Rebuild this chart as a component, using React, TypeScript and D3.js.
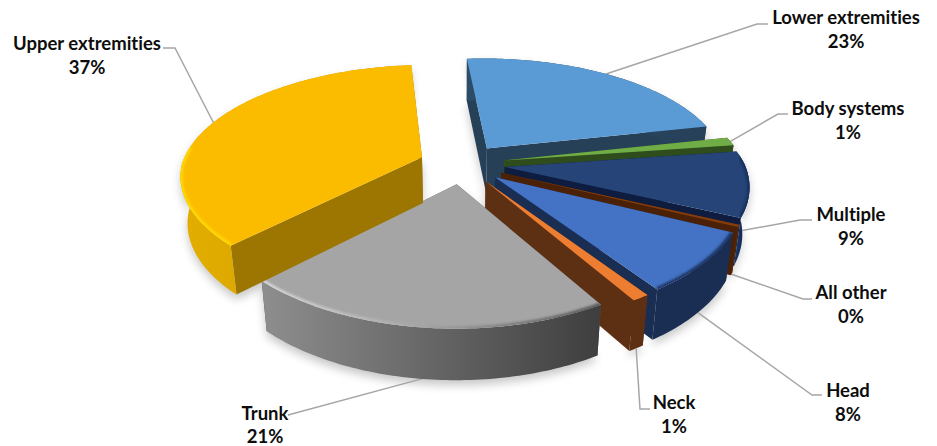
import * as d3 from 'd3'

// values, clockwise from the top
const categories = ['Lower extremities', 'Body systems', 'Multiple', 'All other', 'Head', 'Neck', 'Trunk', 'Upper extremities']
const shares = [23, 1.2, 9.3, 0.3, 8.3, 1, 21, 36.6]

// styles, same order
const topColors = ['#5B9BD5', '#70AD47', '#264478', '#843C0C', '#4472C4', '#ED7D31', '#A5A5A5', '#FBBC00']
const wallColors = ['#264058', '#2F4D1C', '#0E1D3F', '#4A2106', '#1A2D52', '#5E3013', '#505050', '#9C7600']
const rimLeft = ['#2C4C68', '#2F4D1C', '#1B3466', '#5A2A08', '#1A2D52', '#5E3013', '#8E8E8E', '#E3AE00']
const rimRight = ['#264058', '#2F4D1C', '#0E1D3F', '#4A2106', '#1A2D52', '#5E3013', '#3E3E3E', '#C99A00']
const bevelLeft = ['#5B9BD5', '#70AD47', '#16305E', '#843C0C', '#1F3564', '#ED7D31', '#D8D8D8', '#FFD800']
const bevelRight = ['#5B9BD5', '#70AD47', '#16305E', '#843C0C', '#1F3564', '#ED7D31', '#5A5A5A', '#FFD000']

// label placement: centre x, centre y of the name line
const labelSpots = [[846, 18], [848, 109], [851, 215], [851, 293], [848, 391], [674, 403], [265, 413.5], [87, 44]]
const elbowSpots = [[768, 24, 757], [788, 114, 778], [812, 220, 800], [812, 299, 803], [822, 395, 812], [650, 409, 640], [290, 415, 288], [163, 48, 175]]

const width = 937
const height = 446
const centerX = 462
const horizon = -466
const planeDrop = 630
const camDist = 1365
const radius = 240
const explode = 43
const depth = 46
const taper = 0.025

const project = (x: number, y: number, z: number): [number, number] => {
  const w = 1 / (1 + y / camDist)
  // the near half widens less than it drops
  const wx = y < 0 ? Math.pow(w, 0.85) : w
  return [centerX + x * wx * (1 - taper * z), horizon + planeDrop * w + z * depth * Math.sqrt(w)]
}

const pie = d3.pie<number>().sort(null)
  .startAngle((-4.7 * Math.PI) / 180)
  .endAngle(((360 - 4.7) * Math.PI) / 180)

const line = d3.line()

const slices = pie(shares).map((d) => {
  const a0 = d.startAngle
  const a1 = d.endAngle
  const mid = (a0 + a1) / 2
  const ax = explode * Math.sin(mid)
  const ay = explode * Math.cos(mid)
  const steps = Math.max(2, Math.ceil(((a1 - a0) * 180) / Math.PI))
  const angles = d3.range(steps + 1).map((i) => a0 + ((a1 - a0) * i) / steps)
  const rim = (t: number, z: number) => project(ax + radius * Math.sin(t), ay + radius * Math.cos(t), z)
  const apex = (z: number) => project(ax, ay, z)
  const arcTop = angles.map((t) => rim(t, 0))
  const arcBottom = angles.map((t) => rim(t, 1))
  // only the part of the rim that faces the viewer gets a rounded edge
  const nearArc = angles.filter((t) => Math.cos(t) < 0.1).map((t) => rim(t, 0))
  const xs = arcTop.map((p) => p[0])
  return {
    mid,
    topPath: line([apex(0), ...arcTop]) + 'Z',
    arcPath: nearArc.length > 1 ? line(nearArc) : null,
    startWall: line([apex(0), rim(a0, 0), rim(a0, 1), apex(1)]) + 'Z',
    endWall: line([apex(0), rim(a1, 0), rim(a1, 1), apex(1)]) + 'Z',
    rimWall: line([...arcTop, ...[...arcBottom].reverse()]) + 'Z',
    outline: line([apex(0), ...arcTop, rim(a1, 1), ...[...arcBottom].reverse(), apex(1)]) + 'Z',
    minX: d3.min(xs),
    maxX: d3.max(xs),
    anchor: rim(mid, Math.cos(mid) < 0 ? 1 : 0),
  }
})

const App = () => {
  return (
    <svg
      width={width}
      height={height}
      style={{ position: 'absolute', left: 0, top: 0, background: '#fff' }}
    >
      <defs>
        <filter id="soft" x="-20%" y="-20%" width="140%" height="140%">
          <feGaussianBlur stdDeviation="5" />
        </filter>
        <filter id="edge" x="-10%" y="-10%" width="120%" height="120%">
          <feGaussianBlur stdDeviation="1.3" />
        </filter>
        {slices.map((s, i) => (
          <linearGradient key={i} id={`rim${i}`} gradientUnits="userSpaceOnUse" x1={s.minX} x2={s.maxX} y1={0} y2={0}>
            <stop offset="0" stopColor={rimLeft[i]} />
            <stop offset="1" stopColor={rimRight[i]} />
          </linearGradient>
        ))}
        {slices.map((s, i) => (
          <linearGradient key={i} id={`bevel${i}`} gradientUnits="userSpaceOnUse" x1={s.minX} x2={s.maxX} y1={0} y2={0}>
            <stop offset="0" stopColor={bevelLeft[i]} />
            <stop offset="0.45" stopColor={bevelLeft[i] === '#D8D8D8' ? '#A8A8A8' : bevelLeft[i]} />
            <stop offset="1" stopColor={bevelRight[i]} />
          </linearGradient>
        ))}
        {slices.map((s, i) => (
          <clipPath key={i} id={`top${i}`}>
            <path d={s.topPath} />
          </clipPath>
        ))}
      </defs>

      <g filter="url(#soft)" opacity={0.22} transform="translate(0,5)">
        {slices.map((s, i) => (
          <path key={i} d={s.outline} fill="#000" />
        ))}
      </g>

      {categories.map((name, i) => {
        const s = slices[i]
        const [tx, ty, ex] = elbowSpots[i]
        return (
          <polyline
            key={name}
            points={`${tx},${ty} ${ex},${ty} ${s.anchor[0]},${s.anchor[1]}`}
            fill="none"
            stroke="#A6A6A6"
            strokeWidth={1.5}
          />
        )
      })}

      {slices.map((s, i) => (
        <g key={i} strokeLinejoin="round">
          <path d={s.startWall} fill={wallColors[i]} />
          <path d={s.endWall} fill={wallColors[i]} />
          <path d={s.rimWall} fill={`url(#rim${i})`} />
          <path d={s.topPath} fill={topColors[i]} />
          {s.arcPath && (
            <g clipPath={`url(#top${i})`}>
              <path d={s.arcPath} fill="none" stroke={`url(#bevel${i})`} strokeWidth={5} filter="url(#edge)" />
            </g>
          )}
        </g>
      ))}

      {categories.map((name, i) => {
        const [lx, ly] = labelSpots[i]
        return (
          <text
            key={name}
            x={lx}
            textAnchor="middle"
            fontFamily="Lato, 'Open Sans', sans-serif"
            fontWeight={700}
            fontSize={18.5}
            fill="#0d0d0d"
            style={{ fontVariantLigatures: 'none' }}
          >
            <tspan x={lx} y={ly + 6}>{name}</tspan>
            <tspan x={lx} y={ly + 29.5}>{`${Math.round(shares[i])}%`}</tspan>
          </text>
        )
      })}
    </svg>
  )
}

export default App
